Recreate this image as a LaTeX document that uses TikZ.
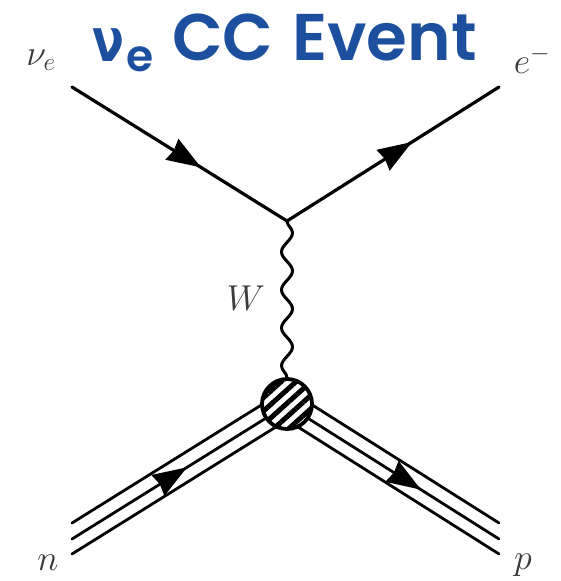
\documentclass[tikz,border=0pt]{standalone}
\usepackage{fix-cm}
\usepackage{amsmath}
\usepackage{fontspec}
\usepackage{xcolor}
\newfontfamily\titlefont{Poppins SemiBold}
\newfontfamily\nufont{DejaVu Sans}
\usetikzlibrary{calc, arrows.meta, decorations.pathmorphing, decorations.markings, patterns.meta}
\definecolor{titleblue}{HTML}{1D4F9F}
\definecolor{labelgray}{HTML}{3A3A3A}
\newcommand{\labelsize}{\fontsize{36}{42}\selectfont}

\begin{document}
\begin{tikzpicture}[
    x=1pt, y=-1pt,
    fermion/.style={line width=3.2pt, postaction={decorate}, decoration={markings,
        mark=at position #1 with {\arrow{Stealth[inset=2pt,length=34pt,width=24pt]}}}},
    barrel/.style={line width=2.8pt, line cap=round},
    boson/.style={line width=3pt, decorate, decoration={snake, segment length=38pt, amplitude=5.5pt}},
    blob/.style={circle, draw, line width=3.8pt, minimum size=50pt, inner sep=0pt,
        pattern={Lines[angle=42,distance=10pt,line width=5pt]}},
    partlabel/.style={text=labelgray, font=\labelsize, inner sep=0pt},
    titlepart/.style={text=titleblue, inner sep=0pt, anchor=base west}
]
\useasboundingbox (0,0) rectangle (561,581);

% External points
\coordinate (nuin) at (72,87);
\coordinate (eout) at (499,87);
\coordinate (vertex) at (287,221);
\coordinate (nin) at (72,539);
\coordinate (pout) at (499,539);
\coordinate (hadron) at (287,405);

% Lepton lines
\draw [fermion=0.6, line cap=round] (nuin) -- (vertex);
\draw [fermion=0.59, line cap=round] (vertex) -- (eout);

% W exchange
\draw [boson] (vertex) -- (287,382);

% Neutron and proton
\draw [barrel] ($(nin)+(0,-16)$) -- ($(hadron)+(0,-16)$);
\draw [barrel] (nin) -- (hadron);
\draw [barrel] ($(nin)+(0,15)$) -- ($(hadron)+(0,15)$);
\draw [barrel] ($(pout)+(0,-16)$) -- ($(hadron)+(0,-16)$);
\draw [barrel] (pout) -- (hadron);
\draw [barrel] ($(pout)+(0,15)$) -- ($(hadron)+(0,15)$);
\path [fermion=0.535] (nin) -- (hadron);
\path [fermion=0.632] (hadron) -- (pout);

% Blob
\node (blobwhite) [circle, fill=white, minimum size=50pt] at (287,404) {};
\node (blobhatch) [blob] at (287,404) {};

% Labels
\node (nulabel) [partlabel] at (41,60) {$\nu_e$};
\node (elabel) [partlabel] at (532,60) {$e^-$};
\node (wlabel) [partlabel] at (246,298) {$W$};
\node (nlabel) [partlabel] at (48,563) {$n$};
\node (plabel) [partlabel] at (523,565) {$p$};

% Title
\node (titlenu) [titlepart] at (92,61) {\nufont\bfseries\fontsize{60}{62}\selectfont\scalebox{0.78}[1]{ν}};
\node (titlee) [titlepart] at (126,71) {\titlefont\fontsize{44}{46}\selectfont e};
\node (titlecc) [titlepart] at (172,60) {\titlefont\fontsize{66}{70}\selectfont CC};
\node (titleevent) [titlepart] at (292,60) {\titlefont\fontsize{66}{70}\selectfont Event};
\end{tikzpicture}
\end{document}
